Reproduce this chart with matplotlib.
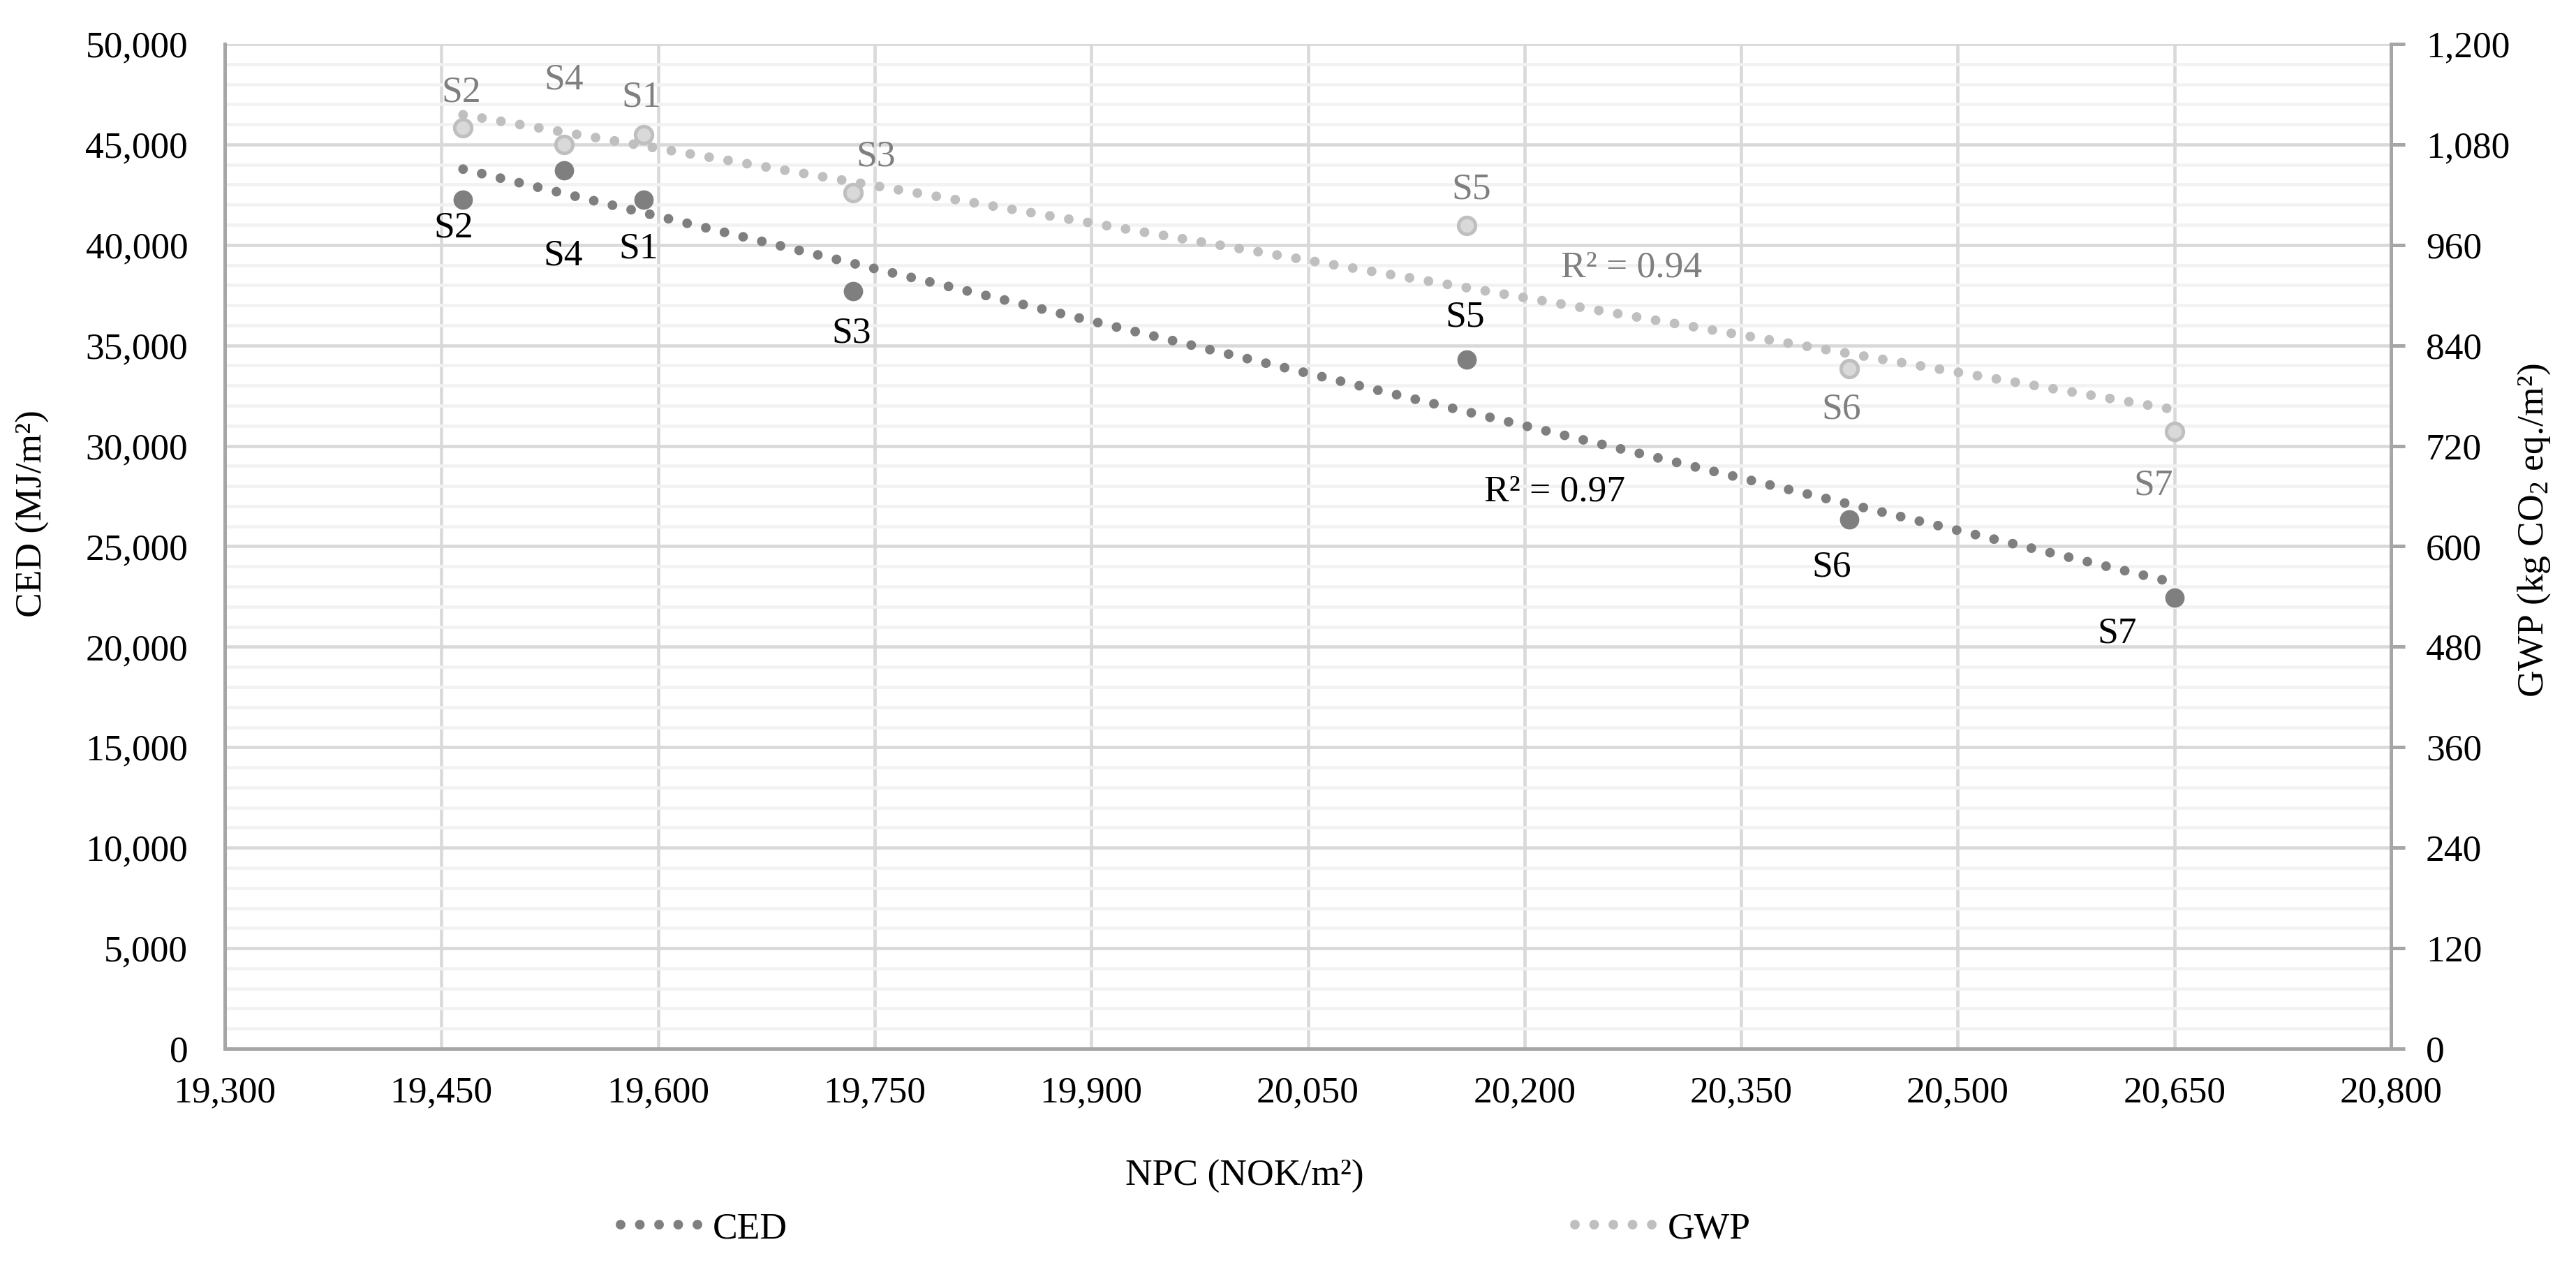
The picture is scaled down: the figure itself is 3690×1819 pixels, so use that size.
#!/usr/bin/env python3
"""
NPC vs CED / GWP scatter with linear trendlines (two y axes).
"""

import numpy as np
import matplotlib
matplotlib.use('Agg')
import matplotlib.pyplot as plt
from matplotlib.ticker import MultipleLocator, FixedLocator, FuncFormatter

# ── Data ────────────────────────────────────────────────────────────────────
scenarios = ['S1', 'S2', 'S3', 'S4', 'S5', 'S6', 'S7']
npc = [19590, 19465, 19735, 19535, 20160, 20425, 20650]   # NOK/m2
ced = [42250, 42250, 37700, 43700, 34300, 26350, 22450]   # MJ/m2
gwp = [1092, 1100, 1022, 1080, 983, 812, 737]             # kg CO2 eq./m2
npc_ticks = list(range(19300, 20801, 150))
r2_ced = 'R² = 0.97'
r2_gwp = 'R² = 0.94'

# ── Style ───────────────────────────────────────────────────────────────────
plt.rcParams.update({
    'font.family': ['Liberation Serif', 'DejaVu Serif'],
    'font.size': 38.5,
    'mathtext.fontset': 'custom',
    'mathtext.rm': 'Liberation Serif',
    'mathtext.it': 'Liberation Serif:italic',
})

C_CED      = '#7F7F7F'
C_GWP_FILL = '#D9D9D9'
C_GWP_EDGE = '#BFBFBF'
C_GRID     = '#D9D9D9'
C_MINOR    = '#F2F2F2'
C_AXIS     = '#A6A6A6'
DOTTED     = (0, (0.001, 1.98))

W, H = 3690, 1819
fig = plt.figure(figsize=(W / 100, H / 100), dpi=100)
ax = fig.add_axes([322 / W, 1 - 1502 / H, 3103 / W, 1439 / H])
ax2 = ax.twinx()

fmt = FuncFormatter(lambda v, p: f'{v:,.0f}')

# Left axis / grid
ax.set_xlim(npc_ticks[0], npc_ticks[-1])
ax.set_ylim(0, 50000)
ax.xaxis.set_major_locator(FixedLocator(npc_ticks))
ax.yaxis.set_major_locator(MultipleLocator(5000))
ax.yaxis.set_minor_locator(MultipleLocator(1000))
ax.xaxis.set_major_formatter(fmt)
ax.yaxis.set_major_formatter(fmt)
ax.grid(which='minor', axis='y', color=C_MINOR, lw=3.3, zorder=0)
ax.grid(which='major', axis='both', color=C_GRID, lw=3.3, zorder=0)
ax.set_axisbelow(True)
ax.tick_params(axis='both', which='both', length=0)
ax.tick_params(axis='y', pad=38)
ax.tick_params(axis='x', pad=28)
for s in ['top', 'right']:
    ax.spines[s].set_visible(False)
for s in ['left', 'bottom']:
    ax.spines[s].set_color(C_AXIS)
    ax.spines[s].set_linewidth(3.6)

# Right axis
ax2.set_ylim(0, 1200)
ax2.yaxis.set_major_locator(MultipleLocator(120))
ax2.yaxis.set_major_formatter(fmt)
ax2.tick_params(axis='y', direction='out', length=14.4, width=3.6,
                color=C_AXIS, pad=21.6)
for s in ['top', 'left', 'bottom']:
    ax2.spines[s].set_visible(False)
ax2.spines['right'].set_color(C_AXIS)
ax2.spines['right'].set_linewidth(3.6)

# ── Points ──────────────────────────────────────────────────────────────────
ax.plot(npc, ced, 'o', ls='none', ms=20, color=C_CED, mew=0, zorder=3)
ax2.plot(npc, gwp, 'o', ls='none', ms=17.5, mfc=C_GWP_FILL,
         mec=C_GWP_EDGE, mew=3.6, zorder=3)

# ── Linear trendlines ───────────────────────────────────────────────────────
def trend(x, y):
    k, b = np.polyfit(x, y, 1)
    xs = np.array([min(x), max(x)], dtype=float)
    return xs, k * xs + b

xs, ys = trend(npc, ced)
l_ced, = ax.plot(xs, ys, color=C_CED, lw=10, ls=DOTTED,
                 dash_capstyle='round', zorder=4)
xs, ys = trend(npc, gwp)
l_gwp, = ax2.plot(xs, ys, color=C_GWP_EDGE, lw=10, ls=DOTTED,
                  dash_capstyle='round', zorder=4)

# ── Point labels (offsets in pixels) ────────────────────────────────────────
ced_off = [(-7, -70), (-14, -40), (-2, -61), (-1, -122), (-2, 60), (-26, -69), (-82, -52)]
gwp_off = [(-3, 53), (-3, 50), (33, 52), (0, 92), (7, 52), (-12, -58), (-30, -77)]

for name, x, y, off in zip(scenarios, npc, ced, ced_off):
    ax.annotate(name, (x, y), xytext=off, textcoords='offset pixels',
                ha='center', va='center', color='black', zorder=5)
for name, x, y, off in zip(scenarios, npc, gwp, gwp_off):
    ax2.annotate(name, (x, y), xytext=off, textcoords='offset pixels',
                 ha='center', va='center', color=C_CED, zorder=5)

ax2.text(0.6138, 0.5543, r2_ced, transform=ax.transAxes,
         ha='center', va='center', color='black')
ax2.text(0.6495, 0.7776, r2_gwp, transform=ax.transAxes,
         ha='center', va='center', color=C_CED)

# ── Axis titles ─────────────────────────────────────────────────────────────
fig.text(1783 / W, 1 - 1685 / H, 'NPC (NOK/m²)', ha='center', va='center')
fig.text(47 / W, 1 - 736 / H, 'CED (MJ/m²)', rotation=90,
         ha='center', va='center')
fig.text(3630 / W, 1 - 760 / H, 'GWP (kg CO$_2$ eq./m²)', rotation=90,
         ha='center', va='center')

# ── Legend ──────────────────────────────────────────────────────────────────
fig.legend([l_ced, l_gwp], ['CED', 'GWP'], loc='center left',
           bbox_to_anchor=(889 / W, 1 - 1760 / H), ncol=2, frameon=False,
           borderpad=0, borderaxespad=0, handlelength=2.07,
           handletextpad=0.4, columnspacing=21.1)

fig.savefig('out.png', dpi=100)
